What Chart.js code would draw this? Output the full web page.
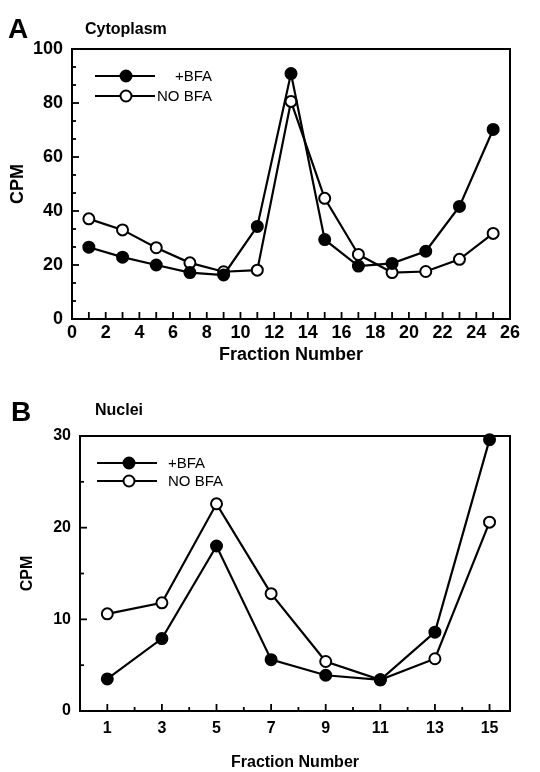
<!DOCTYPE html>
<html>
<head>
<meta charset="utf-8">
<script src="https://cdn.jsdelivr.net/npm/chart.js@4.4.1/dist/chart.umd.min.js"></script>
<style>
  body { margin: 0; background: #fff; }
  .panel { position: absolute; left: 0; width: 540px; }
  .letter { position: absolute; font: bold 28px "Liberation Sans", Arial, sans-serif; }
  .sub { position: absolute; font: bold 16px "Liberation Sans", Arial, sans-serif; }
</style>
</head>
<body>
<div class="panel" style="top:0;height:390px">
  <canvas id="chartA" width="540" height="390"></canvas>
  <div class="letter" style="left:8px;top:13px">A</div>
  <div class="sub" style="left:85px;top:20px">Cytoplasm</div>
</div>
<div class="panel" style="top:390px;height:382px">
  <canvas id="chartB" width="540" height="382"></canvas>
  <div class="letter" style="left:11px;top:6px">B</div>
  <div class="sub" style="left:95px;top:11px">Nuclei</div>
</div>
<script>
// ===== DATA =====
const fractionsA = [1, 3, 5, 7, 9, 11, 13, 15, 17, 19, 21, 23, 25];
const bfaA = [26.6, 22.9, 20.0, 17.2, 16.3, 34.3, 90.9, 29.4, 19.6, 20.6, 25.1, 41.7, 70.2];
const noBfaA = [37.1, 33.0, 26.4, 20.8, 17.5, 18.1, 80.6, 44.7, 23.9, 17.2, 17.6, 22.1, 31.7];

const fractionsB = [1, 3, 5, 7, 9, 11, 13, 15];
const bfaB = [3.5, 7.9, 18.0, 5.6, 3.9, 3.4, 8.6, 29.6];
const noBfaB = [10.6, 11.8, 22.6, 12.8, 5.4, 3.4, 5.7, 20.6];

const xTicksA = [0, 2, 4, 6, 8, 10, 12, 14, 16, 18, 20, 22, 24, 26];
const yTicksA = [0, 20, 40, 60, 80, 100];
const xTicksB = [1, 3, 5, 7, 9, 11, 13, 15];
const yTicksB = [0, 10, 20, 30];
const seriesNames = ["+BFA", "NO BFA"];

const FONT = "Liberation Sans";

function pts(xs, ys) {
  return xs.map((x, i) => ({ x: x, y: ys[i] }));
}

function makeSet(label, data, filled) {
  return {
    label: label,
    data: data,
    borderColor: "#000",
    borderWidth: 2.2,
    pointRadius: 5.5,
    pointBorderWidth: 2,
    pointBackgroundColor: filled ? "#000" : "#fff",
    pointBorderColor: "#000",
    tension: 0,
    clip: false
  };
}

// frame, inward ticks and the little legend
const framePlugin = {
  id: "frame",
  afterDraw(chart, args, opts) {
    const ctx = chart.ctx;
    const a = chart.chartArea;
    const xs = chart.scales.x, ys = chart.scales.y;
    ctx.save();
    ctx.strokeStyle = "#000";
    ctx.lineWidth = 2;
    ctx.strokeRect(a.left, a.top, a.right - a.left, a.bottom - a.top);
    ctx.lineWidth = 1.8;
    opts.xMinor.forEach(v => {
      const px = xs.getPixelForValue(v);
      ctx.beginPath(); ctx.moveTo(px, a.bottom); ctx.lineTo(px, a.bottom - 4); ctx.stroke();
    });
    opts.xMajor.forEach(v => {
      const px = xs.getPixelForValue(v);
      ctx.beginPath(); ctx.moveTo(px, a.bottom); ctx.lineTo(px, a.bottom - 7); ctx.stroke();
    });
    opts.yMinor.forEach(v => {
      const py = ys.getPixelForValue(v);
      ctx.beginPath(); ctx.moveTo(a.left, py); ctx.lineTo(a.left + 4, py); ctx.stroke();
    });
    opts.yMajor.forEach(v => {
      const py = ys.getPixelForValue(v);
      ctx.beginPath(); ctx.moveTo(a.left, py); ctx.lineTo(a.left + 7, py); ctx.stroke();
    });
    // legend
    const L = opts.legend;
    chart.data.datasets.forEach((ds, i) => {
      const y = L.y + i * L.gap;
      ctx.lineWidth = 2.2;
      ctx.beginPath(); ctx.moveTo(L.x0, y); ctx.lineTo(L.x1, y); ctx.stroke();
      ctx.beginPath();
      ctx.arc(L.xm, y, 5.5, 0, Math.PI * 2);
      ctx.fillStyle = ds.pointBackgroundColor;
      ctx.fill();
      ctx.lineWidth = 2;
      ctx.stroke();
      ctx.fillStyle = "#000";
      ctx.font = "15px " + FONT;
      ctx.textBaseline = "middle";
      ctx.textAlign = L.align;
      ctx.fillText(ds.label, L.tx, y + 1);
    });
    ctx.restore();
  }
};

function range(a, b, s) {
  const out = [];
  for (let v = a; v <= b + 1e-9; v += s) out.push(v);
  return out;
}

function baseOptions(cfg) {
  const f = { family: FONT, size: cfg.fontSize, weight: "bold" };
  return {
    responsive: false,
    animation: false,
    layout: { padding: { top: cfg.top, right: cfg.right, left: 0, bottom: 0 } },
    plugins: {
      legend: { display: false },
      tooltip: { enabled: false },
      frame: cfg.frame
    },
    scales: {
      x: {
        type: "linear",
        min: cfg.xMin, max: cfg.xMax,
        afterFit: s => { s.height = cfg.xHeight; },
        afterBuildTicks: s => { s.ticks = cfg.xLabels.map(v => ({ value: v })); },
        grid: { display: false, drawTicks: false },
        border: { display: false },
        ticks: { color: "#000", padding: cfg.xTickPad, font: f, maxRotation: 0 },
        title: { display: true, text: "Fraction Number", color: "#000", padding: { top: 0, bottom: cfg.xTitlePad },
                 font: f }
      },
      y: {
        min: cfg.yMin, max: cfg.yMax,
        afterFit: s => { s.width = cfg.yWidth; },
        afterBuildTicks: s => { s.ticks = cfg.yLabels.map(v => ({ value: v })); },
        grid: { display: false, drawTicks: false },
        border: { display: false },
        ticks: { color: "#000", padding: 9, font: f },
        title: { display: true, text: "CPM", color: "#000", padding: { top: cfg.yTitlePad, bottom: 0 },
                 font: f }
      }
    }
  };
}

new Chart(document.getElementById("chartA"), {
  type: "line",
  data: {
    datasets: [
      makeSet(seriesNames[0], pts(fractionsA, bfaA), true),
      makeSet(seriesNames[1], pts(fractionsA, noBfaA), false)
    ]
  },
  options: baseOptions({
    top: 49, right: 30, xHeight: 71, yWidth: 72, fontSize: 18,
    xTickPad: 3, xTitlePad: 24, yTitlePad: 7,
    xMin: 0, xMax: 26, yMin: 0, yMax: 100,
    xLabels: xTicksA, yLabels: yTicksA,
    frame: {
      xMajor: range(0, 26, 1), xMinor: [],
      yMajor: yTicksA, yMinor: range(0, 100, 20 / 3).filter(v => Math.abs(v % 20) > 0.5 && Math.abs(v % 20 - 20) > 0.5),
      legend: { x0: 95, x1: 155, xm: 126, y: 76, gap: 20, tx: 212, align: "right" }
    }
  }),
  plugins: [framePlugin]
});

new Chart(document.getElementById("chartB"), {
  type: "line",
  data: {
    datasets: [
      makeSet(seriesNames[0], pts(fractionsB, bfaB), true),
      makeSet(seriesNames[1], pts(fractionsB, noBfaB), false)
    ]
  },
  options: baseOptions({
    top: 46, right: 30, xHeight: 61, yWidth: 80, fontSize: 16,
    xTickPad: 8, xTitlePad: 0, yTitlePad: 18,
    xMin: 0, xMax: 15.75, yMin: 0, yMax: 30,
    xLabels: xTicksB, yLabels: yTicksB,
    frame: {
      xMajor: xTicksB, xMinor: range(2, 14, 2),
      yMajor: yTicksB, yMinor: range(5, 25, 10),
      legend: { x0: 97, x1: 157, xm: 129, y: 73, gap: 18, tx: 168, align: "left" }
    }
  }),
  plugins: [framePlugin]
});
</script>
</body>
</html>
